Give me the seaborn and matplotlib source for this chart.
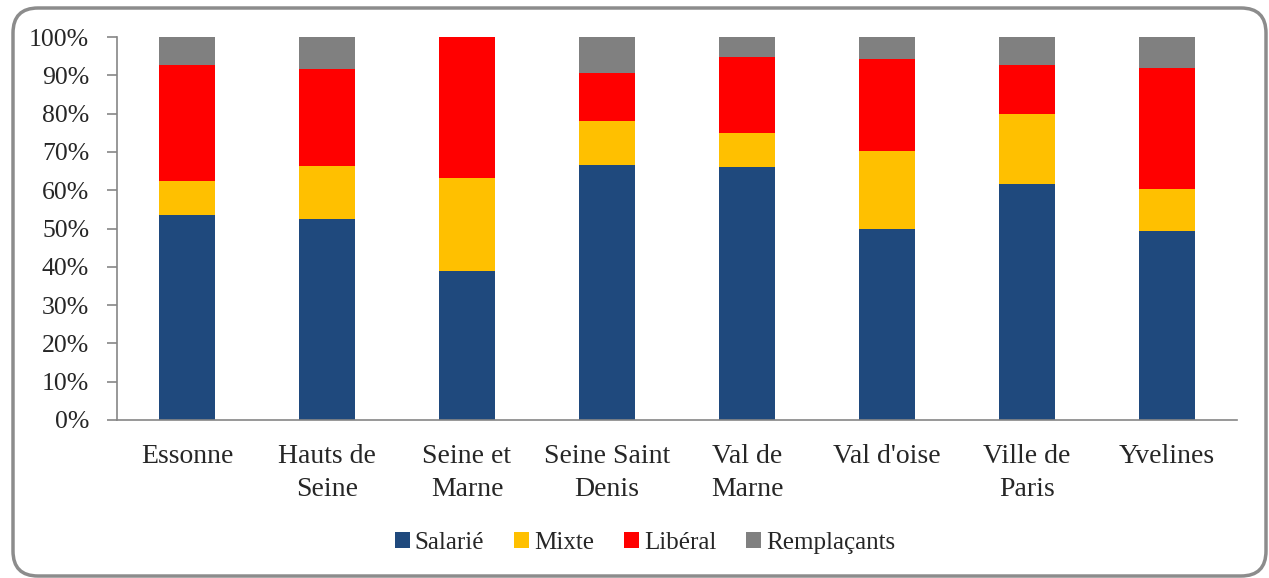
import numpy as np
import pandas as pd
import matplotlib
matplotlib.use("Agg")
import matplotlib.pyplot as plt
import seaborn as sns
from matplotlib.patches import Patch, FancyBboxPatch
from matplotlib.ticker import PercentFormatter

sns.set_style("white")
plt.rcParams["font.family"] = ["Liberation Serif", "DejaVu Serif"]

# data (share of each activity type, %)
departements = ["Essonne", "Hauts de\nSeine", "Seine et\nMarne", "Seine Saint\nDenis",
                "Val de\nMarne", "Val d'oise", "Ville de\nParis", "Yvelines"]
salarie = [53.6, 52.5, 38.9, 66.6, 66.1, 49.9, 61.6, 49.3]
mixte = [8.8, 13.8, 24.3, 11.5, 8.8, 20.3, 18.3, 11.0]
liberal = [30.3, 25.3, 36.8, 12.5, 19.9, 24.1, 12.8, 31.6]
remplacants = [7.3, 8.4, 0.0, 9.4, 5.2, 5.7, 7.3, 8.1]

series = ["Salarié", "Mixte", "Libéral", "Remplaçants"]
colors = ["#1F497D", "#FFC000", "#FF0000", "#808080"]

df = pd.DataFrame({"Salarié": salarie, "Mixte": mixte, "Libéral": liberal,
                   "Remplaçants": remplacants}, index=departements) / 100
cum = df.cumsum(axis=1)

fig = plt.figure(figsize=(12.69, 5.78), dpi=100)
ax = fig.add_axes([117 / 1269, 1 - 420 / 578, 1120 / 1269, 383 / 578])

# layered cumulative bars, tallest first
for name, col in reversed(list(zip(series, colors))):
    sns.barplot(x=departements, y=cum[name].values, color=col, width=0.4,
                saturation=1, linewidth=0, edgecolor="none", ax=ax)

ax.set_ylim(0, 1)
ax.set_xlim(-0.5, 7.5)
ax.set_yticks(np.arange(0, 1.01, 0.1))
ax.yaxis.set_major_formatter(PercentFormatter(1.0, decimals=0))
ax.set_xlabel("")
ax.set_ylabel("")

for s in ["top", "right"]:
    ax.spines[s].set_visible(False)
for s in ["left", "bottom"]:
    ax.spines[s].set_color("#868686")
    ax.spines[s].set_linewidth(1.2)

ax.tick_params(axis="y", which="both", left=True, length=7, width=1.2,
               color="#868686", labelsize=18.5, pad=13)
ax.tick_params(axis="x", length=0, labelsize=20, pad=17)
for lbl in ax.get_xticklabels():
    lbl.set_linespacing(1.45)
    lbl.set_verticalalignment("top")

handles = [Patch(facecolor=c, edgecolor="none", label=n) for n, c in zip(series, colors)]
fig.legend(handles=handles, loc="center", bbox_to_anchor=(645 / 1269, 1 - 543 / 578),
           ncol=4, frameon=False, fontsize=18, handlelength=0.6, handleheight=0.6,
           handletextpad=0.2, columnspacing=1.2)

# rounded frame around the chart
frame = FancyBboxPatch((0.13, 0.02), 12.53, 5.68, boxstyle="round,pad=0,rounding_size=0.25",
                       transform=fig.dpi_scale_trans, facecolor="none",
                       edgecolor="#8c8c8c", linewidth=2.5)
fig.patches.append(frame)

fig.savefig("out.png", dpi=100)
